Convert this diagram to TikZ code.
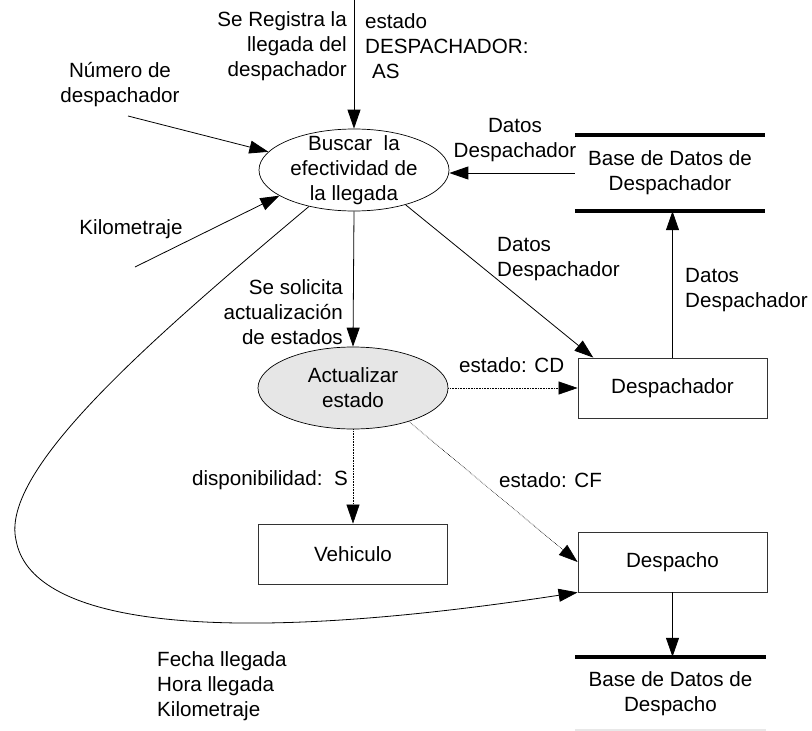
\documentclass[tikz,border=0pt]{standalone}
\usepackage{fontspec}
\setmainfont{Liberation Sans}
\usetikzlibrary{arrows.meta, positioning, shapes.geometric}
\definecolor{procGray}{HTML}{E6E6E6}
\definecolor{edgeDark}{HTML}{333333}
\definecolor{storeFaint}{HTML}{E8E8E8}
\tikzset{
  flow/.style={-{Triangle[length=19pt,width=13pt]}, black, line width=0.8pt},
  flowD/.style={-{Triangle[length=19pt,width=13pt]}, black, line width=0.6pt, densely dotted},
  procA/.style={ellipse, draw=black, line width=0.7pt, minimum width=190pt,
                minimum height=82pt, inner sep=0pt},
  procB/.style={procA, fill=procGray},
  boxE/.style={rectangle, draw=edgeDark, line width=0.8pt, minimum width=189pt,
               minimum height=60pt},
  storeT/.style={minimum width=190pt, inner sep=0pt, align=center},
  storeL/.style={line width=3.5pt, black},
  lbl/.style={inner sep=0pt, align=left},
}
\begin{document}
\begin{tikzpicture}[x=1pt, y=-1pt, font=\fontsize{20.6}{25}\selectfont]
  \useasboundingbox (0,0) rectangle (812,731);
  \node[procA] (buscar) at (354,170) {};
  \node[align=center, inner sep=0pt] at (buscar) {Buscar\ \ la\\efectividad de\\la llegada};
  \node[procB] (actualizar) at (353,388) {};
  \node[align=center, inner sep=0pt] at (actualizar) {Actualizar\\estado};
  \node[boxE] (despachador) at (672.5,388) {Despachador};
  \node[boxE] (vehiculo) at (353,554) {Vehiculo};
  \node[boxE] (despacho) at (672.5,562) {Despacho};
  \node[storeT, minimum height=76pt] (dbA) at (670,173) {Base de Datos de\\Despachador};
  \node[storeT, minimum height=74pt] (dbB) at (670.5,694) {Base de Datos de\\Despacho};
  \draw[storeL] (dbA.north west) -- (dbA.north east);
  \draw[storeL] (dbA.south west) -- (dbA.south east);
  \draw[storeL] (dbB.north west) -- (dbB.north east);
  \draw[storeFaint, line width=1.5pt] ([yshift=1pt]dbB.south west) -- ([yshift=1pt]dbB.south east);
  \coordinate (regIn) at (354,0);
  \coordinate (numIn) at (128,116);
  \coordinate (kmIn) at (135,267);
  \coordinate (lazo) at (16,540);
  \draw[flow] (regIn) -- (buscar.north);
  \draw[flow] (numIn) -- (buscar.168);
  \draw[flow] (kmIn) -- (buscar.199);
  \draw[flow] (dbA.west) -- (dbA.west -| buscar.east);
  \draw[flow] (buscar.-34) -- (despachador.159);
  \draw[flow] (buscar.south) -- (actualizar.north);
  \draw[flow] (despachador.north) -- (despachador.north |- dbA.south);
  \draw[flowD] (actualizar.east) -- (despachador.west);
  \draw[flowD] (actualizar.south) -- (vehiculo.north);
  \draw[flowD] (actualizar.-31) -- (despacho.west);
  \draw[flow] (despacho.south) -- (despacho.south |- dbB.north);
  \draw[flow] (buscar.219) .. controls (150,340) and (0,470) .. (lazo)
    .. controls (30,620) and (200,650) .. (despacho.south west);
  \node[lbl, anchor=east, align=right] (regIzq) at (347,46) {Se Registra la\\llegada del\\despachador};
  \node[lbl, anchor=west] (regDer) at (365,46) {estado\\DESPACHADOR:\\\hspace*{7pt}AS};
  \node[lbl, align=center] (numLbl) at (120,85) {Número de\\despachador};
  \node[lbl] (kmLbl) at (131,229) {Kilometraje};
  \node[lbl, align=center] (datosA) at (515,140) {Datos\\Despachador};
  \node[lbl, anchor=west] (datosB) at (497,259) {Datos\\Despachador};
  \node[lbl, anchor=west] (datosC) at (685,290) {Datos\\Despachador};
  \node[lbl, anchor=east, align=right] (solicita) at (343,312) {Se solicita\\actualización\\de estados};
  \node[lbl, anchor=west] (estadoCD) at (459,365) {estado: CD};
  \node[lbl, anchor=east] (dispLbl) at (348,480) {disponibilidad:\ \ S};
  \node[lbl, anchor=west] (estadoCF) at (499,480) {estado: CF};
  \node[lbl, anchor=west] (fechaLbl) at (157,686) {Fecha llegada\\Hora llegada\\Kilometraje};
\end{tikzpicture}
\end{document}
